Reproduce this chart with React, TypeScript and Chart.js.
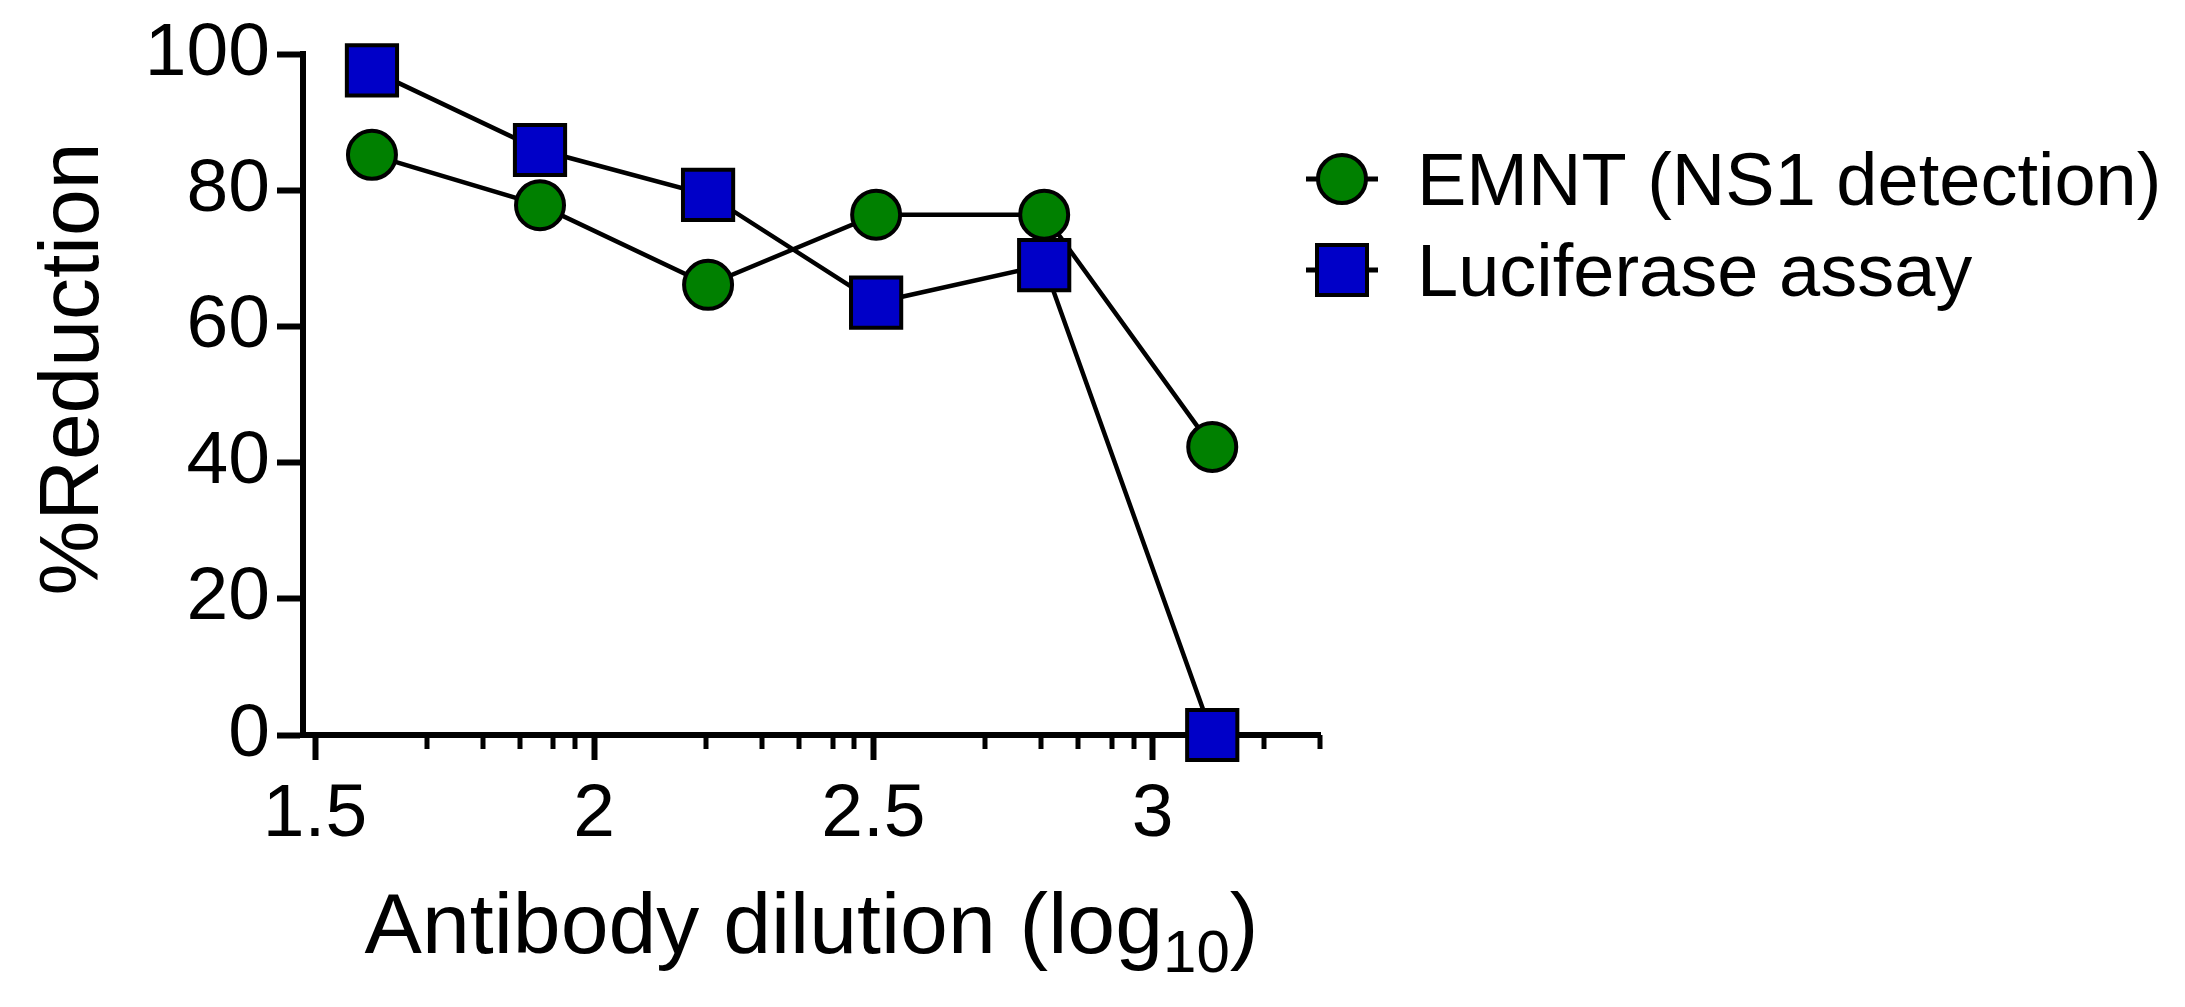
import React, { useEffect, useRef } from "react";
import { Chart, registerables } from "chart.js";

Chart.register(...registerables);

// ---- data ----
const xValues = [1.602, 1.903, 2.204, 2.505, 2.806, 3.107];
const emntValues = [85.2, 77.8, 66.1, 76.4, 76.4, 42.3];
const luciferaseValues = [97.6, 85.9, 79.3, 63.5, 69.0, 0];
const seriesNames = ["EMNT (NS1 detection)", "Luciferase assay"];
const xMajorTicks = [1.5, 2, 2.5, 3];
const xMinorOffsets = [0.2, 0.3, 0.367, 0.427, 0.466];
const xMin = 1.4785;
const xMax = 3.3;
const yMin = 0;
const yMax = 100;
const yStep = 20;
const yTitle = "%Reduction";
const xTitleMain = "Antibody dilution (log";
const xTitleSub = "10";
const xTitleEnd = ")";

const FONT = '"Liberation Sans", Arial, Helvetica, sans-serif';
const GREEN = "#008000";
const BLUE = "#0000c8";

const xMinorTicks = xMajorTicks
  .flatMap((b) => xMinorOffsets.map((o) => +(b + o).toFixed(3)))
  .filter((v) => v <= xMax + 1e-6);

const decorPlugin = {
  id: "decor",
  beforeDatasetsDraw(chart: any) {
    const xs = chart.scales.x;
    const ctx = chart.ctx;
    ctx.save();
    ctx.strokeStyle = "#000";
    ctx.lineWidth = 5;
    for (const v of xMinorTicks) {
      const px = Math.round(xs.getPixelForValue(v));
      ctx.beginPath();
      ctx.moveTo(px, xs.top);
      ctx.lineTo(px, xs.top + 14);
      ctx.stroke();
    }
    ctx.restore();
  },
  afterDraw(chart: any) {
    const ctx = chart.ctx;
    const area = chart.chartArea;
    ctx.save();
    ctx.fillStyle = "#000";

    // Y title
    ctx.save();
    ctx.translate(98, 369);
    ctx.rotate(-Math.PI / 2);
    ctx.font = `84px ${FONT}`;
    ctx.textAlign = "center";
    ctx.textBaseline = "alphabetic";
    ctx.fillText(yTitle, 0, 0);
    ctx.restore();

    // X title with subscript
    const mainFont = `86px ${FONT}`;
    const subFont = `60px ${FONT}`;
    ctx.textAlign = "left";
    ctx.textBaseline = "alphabetic";
    ctx.font = mainFont;
    const w1 = ctx.measureText(xTitleMain).width;
    const w3 = ctx.measureText(xTitleEnd).width;
    ctx.font = subFont;
    const w2 = ctx.measureText(xTitleSub).width;
    const center = (area.left + area.right) / 2;
    let sx = center - (w1 + w2 + w3) / 2;
    const base = 953;
    ctx.font = mainFont;
    ctx.fillText(xTitleMain, sx, base);
    sx += w1;
    ctx.font = subFont;
    ctx.fillText(xTitleSub, sx, base + 19);
    sx += w2;
    ctx.font = mainFont;
    ctx.fillText(xTitleEnd, sx, base);

    // Legend
    const rows = [
      { y: 179, base: 205, style: "circle", color: GREEN, label: seriesNames[0] },
      { y: 270, base: 296, style: "rect", color: BLUE, label: seriesNames[1] },
    ];
    for (const r of rows) {
      ctx.strokeStyle = "#000";
      ctx.lineWidth = 5;
      ctx.beginPath();
      ctx.moveTo(1306, r.y);
      ctx.lineTo(1378, r.y);
      ctx.stroke();
      ctx.fillStyle = r.color;
      ctx.lineWidth = 4;
      ctx.beginPath();
      if (r.style === "circle") {
        ctx.arc(1342, r.y, 24, 0, Math.PI * 2);
      } else {
        ctx.rect(1342 - 25, r.y - 25, 50, 50);
      }
      ctx.fill();
      ctx.stroke();
      ctx.fillStyle = "#000";
      ctx.font = `74px ${FONT}`;
      ctx.fillText(r.label, 1417, r.base);
    }
    ctx.restore();
  },
};

export default function App() {
  const ref = useRef<HTMLCanvasElement | null>(null);
  useEffect(() => {
    if (!ref.current) return;
    const chart = new Chart(ref.current, {
      type: "line",
      data: {
        datasets: [
          {
            label: seriesNames[0],
            data: xValues.map((x, i) => ({ x, y: emntValues[i] })),
            borderColor: "#000",
            borderWidth: 4.5,
            backgroundColor: GREEN,
            pointBackgroundColor: GREEN,
            pointBorderColor: "#000",
            pointBorderWidth: 4,
            pointRadius: 24,
            pointStyle: "circle",
            clip: false,
            order: 1,
          },
          {
            label: seriesNames[1],
            data: xValues.map((x, i) => ({ x, y: luciferaseValues[i] })),
            borderColor: "#000",
            borderWidth: 4.5,
            backgroundColor: BLUE,
            pointBackgroundColor: BLUE,
            pointBorderColor: "#000",
            pointBorderWidth: 4,
            pointRadius: 35.5,
            pointStyle: "rect",
            clip: false,
            order: 0,
          },
        ],
      },
      options: {
        animation: false,
        responsive: false,
        devicePixelRatio: 1,
        events: [],
        layout: { padding: { top: 54, right: 2185 - 1320, left: 0, bottom: 0 } },
        plugins: { legend: { display: false }, tooltip: { enabled: false } },
        scales: {
          x: {
            type: "linear",
            min: xMin,
            max: xMax,
            afterBuildTicks: (s: any) => {
              s.ticks = xMajorTicks.map((v) => ({ value: v }));
            },
            afterFit: (s: any) => {
              s.height = 1007 - 735;
            },
            border: { display: true, color: "#000", width: 6 },
            grid: {
              display: true,
              drawOnChartArea: false,
              drawTicks: true,
              tickLength: 25,
              tickWidth: 6,
              tickColor: "#000",
            },
            ticks: {
              color: "#000",
              font: { family: FONT, size: 75 },
              padding: 10,
              maxRotation: 0,
              autoSkip: false,
              callback: (v: any) => String(v),
            },
          },
          y: {
            type: "linear",
            min: yMin,
            max: yMax,
            afterFit: (s: any) => {
              s.width = 303;
            },
            border: { display: true, color: "#000", width: 6 },
            grid: {
              display: true,
              drawOnChartArea: false,
              drawTicks: true,
              tickLength: 26,
              tickWidth: 6,
              tickColor: "#000",
            },
            ticks: {
              stepSize: yStep,
              color: "#000",
              font: { family: FONT, size: 75 },
              padding: 7,
            },
          },
        },
      },
      plugins: [decorPlugin],
    } as any);
    return () => chart.destroy();
  }, []);
  return (
    <div style={{ position: "fixed", left: 0, top: 0, width: 2185, height: 1007, background: "#fff" }}>
      <canvas ref={ref} width={2185} height={1007} style={{ display: "block" }} />
    </div>
  );
}
